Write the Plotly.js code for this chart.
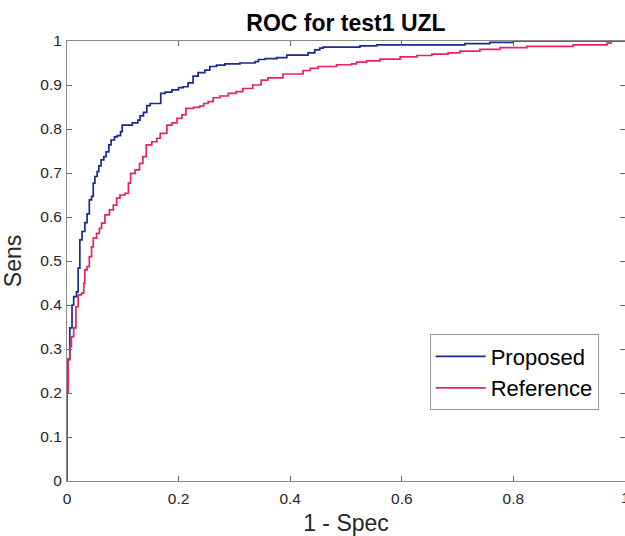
<!DOCTYPE html>
<html>
<head>
<meta charset="utf-8">
<script src="https://cdn.plot.ly/plotly-3.0.1.min.js"></script>
<style>html,body{margin:0;padding:0;background:#fff;}#chart{width:625px;height:536px;}</style>
</head>
<body>
<div id="chart"></div>
<script>
// Proposed ROC (1 - Spec, Sens)
var proposedX = [0,0,0.002,0.005,0.009,0.012,0.017,0.020,0.023,0.027,0.032,0.036,0.040,0.044,0.047,0.050,0.054,0.057,0.061,0.066,0.070,0.075,0.079,0.085,0.090,0.096,0.099,0.117,0.127,0.131,0.137,0.143,0.149,0.168,0.176,0.188,0.200,0.208,0.217,0.226,0.235,0.247,0.256,0.268,0.283,0.310,0.337,0.343,0.355,0.376,0.394,0.432,0.444,0.453,0.459,0.525,0.555,0.713,0.758,0.800,1];
var proposedY = [0,0.2,0.277,0.348,0.400,0.419,0.430,0.484,0.548,0.567,0.587,0.607,0.639,0.647,0.677,0.692,0.703,0.716,0.730,0.737,0.748,0.764,0.775,0.782,0.785,0.794,0.809,0.814,0.820,0.830,0.838,0.853,0.858,0.881,0.884,0.889,0.894,0.896,0.905,0.920,0.928,0.934,0.942,0.945,0.948,0.950,0.953,0.958,0.960,0.962,0.968,0.973,0.980,0.984,0.986,0.989,0.991,0.994,0.997,1.0,1.0];
// Reference ROC
var referenceX = [0,0,0.002,0.005,0.008,0.012,0.016,0.020,0.026,0.030,0.032,0.036,0.040,0.044,0.047,0.053,0.058,0.062,0.068,0.076,0.083,0.089,0.095,0.104,0.110,0.114,0.122,0.130,0.136,0.142,0.152,0.161,0.167,0.179,0.188,0.197,0.206,0.213,0.227,0.238,0.245,0.253,0.262,0.274,0.289,0.303,0.315,0.333,0.348,0.360,0.387,0.423,0.436,0.450,0.483,0.510,0.519,0.537,0.561,0.597,0.627,0.654,0.683,0.704,0.740,0.776,0.824,0.907,0.968,0.975,1];
var referenceY = [0,0.2,0.275,0.305,0.328,0.348,0.396,0.423,0.427,0.449,0.480,0.487,0.510,0.532,0.552,0.563,0.574,0.586,0.605,0.616,0.627,0.643,0.650,0.654,0.677,0.699,0.707,0.722,0.737,0.764,0.771,0.779,0.790,0.809,0.814,0.824,0.832,0.847,0.849,0.852,0.858,0.862,0.871,0.875,0.881,0.885,0.892,0.900,0.911,0.916,0.925,0.933,0.938,0.942,0.946,0.948,0.952,0.955,0.959,0.964,0.967,0.970,0.973,0.977,0.981,0.985,0.988,0.991,0.995,1.0,1.0];
var xTicks = [0,0.2,0.4,0.6,0.8,1];
var yTicks = [0,0.1,0.2,0.3,0.4,0.5,0.6,0.7,0.8,0.9,1];

var FONT = 'Liberation Sans, Arial, sans-serif';

var traces = [
  {x: proposedX, y: proposedY, name: 'Proposed', mode: 'lines',
   line: {color: '#1c2a8c', width: 1.7, shape: 'hv'}},
  {x: referenceX, y: referenceY, name: 'Reference', mode: 'lines',
   line: {color: '#e8245c', width: 1.7, shape: 'hv'}}
];

var axisCommon = {
  range: [0, 1], showgrid: false, zeroline: false,
  showline: true, linecolor: '#8a8a8a', linewidth: 1, mirror: 'ticks',
  ticks: 'inside', ticklen: 5, tickcolor: '#666', tickwidth: 1,
  tickfont: {family: FONT, size: 15.5, color: '#262626'}
};

// last x tick label (at the clipped right edge) drawn as an annotation so it is not dropped
var lastX = xTicks[xTicks.length - 1];

var layout = {
  width: 625, height: 536,
  margin: {l: 67, r: 0, t: 41, b: 55},
  paper_bgcolor: '#fff', plot_bgcolor: '#fff',
  title: {text: '<b>ROC for test1 UZL</b>', font: {family: FONT, size: 23, color: '#000'},
          x: 0.5535, xanchor: 'center', y: 0.958, yanchor: 'middle'},
  xaxis: Object.assign({}, axisCommon, {tickvals: xTicks, ticktext: xTicks.map(String), ticklabelstandoff: 3,
    title: {text: '1 - Spec', font: {family: FONT, size: 23, color: '#262626'}, standoff: 12}}),
  yaxis: Object.assign({}, axisCommon, {tickvals: yTicks, ticktext: yTicks.map(String), ticklabelstandoff: 1,
    title: {text: 'Sens', font: {family: FONT, size: 23, color: '#262626'}, standoff: 12}}),
  annotations: [{x: lastX, xref: 'x', y: 0, yref: 'y', yshift: -16, text: String(lastX), showarrow: false,
    xanchor: 'center', yanchor: 'middle', font: {family: FONT, size: 15.5, color: '#262626'}}],
  showlegend: true,
  legend: {x: 0.65, y: 0.333, xanchor: 'left', yanchor: 'top', bgcolor: '#fff',
    bordercolor: '#999', borderwidth: 1, tracegroupgap: 0, itemwidth: 50,
    font: {family: FONT, size: 22, color: '#000'}}
};

Plotly.newPlot('chart', traces, layout, {displayModeBar: false, staticPlot: true});
</script>
</body>
</html>
